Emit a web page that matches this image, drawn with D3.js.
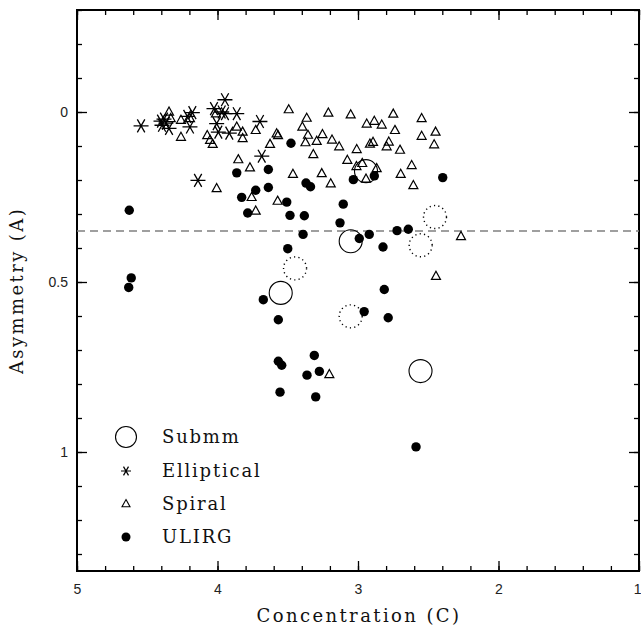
<!doctype html>
<html>
  <head>
    <meta charset="utf-8">
    <title>Concentration vs Asymmetry</title>
    <script src="https://cdn.jsdelivr.net/npm/d3@7"></script>
    <style>
      body { margin: 0; background: #fff; }
      .tick text { font-family: "Liberation Sans", Arial, sans-serif; font-size: 14px; fill: #222; }
      .lbl { font-family: "DejaVu Serif", serif; font-size: 18px; fill: #111; }
    </style>
  </head>
  <body>
    <script>
      // Elliptical galaxies (concentration, asymmetry)
      const ellipticalC = [4.544, 4.402, 4.381, 4.367, 4.345, 4.395, 4.215, 4.179, 4.196, 4.025,
                           3.947, 3.970, 3.947, 3.863, 4.006, 3.994, 3.916, 3.698, 3.685, 4.139];
      const ellipticalA = [0.041, 0.027, 0.021, 0.033, 0.048, 0.039, 0.013, 0.002, 0.044, -0.010,
                           -0.036, 0.000, 0.005, 0.005, 0.034, 0.059, 0.062, 0.028, 0.130, 0.201];

      // Spiral galaxies
      const spiralC = [4.345, 4.333, 4.260, 4.260, 4.196, 4.073, 4.053, 4.034, 4.011, 3.863,
                       3.821, 3.821, 3.728, 3.579, 3.569, 3.626, 3.493, 3.852, 3.769, 4.006,
                       3.757, 3.572, 3.728, 3.365, 3.396, 3.211, 3.052, 2.938, 2.884, 2.831,
                       2.749, 2.547, 2.737, 2.448, 2.547, 2.458, 3.356, 3.253, 3.185, 3.294,
                       3.374, 3.134, 3.009, 2.915, 2.893, 2.796, 2.781, 2.701, 3.318, 3.076,
                       3.011, 2.970, 2.867, 2.943, 2.618, 2.696, 2.606, 3.463, 3.258, 3.194,
                       2.267, 2.445, 3.204];
      const spiralA = [0.000, 0.019, 0.024, 0.074, 0.019, 0.069, 0.083, 0.095, 0.005, 0.044,
                       0.059, 0.078, 0.054, 0.064, 0.069, 0.095, -0.007, 0.140, 0.164, 0.225,
                       0.251, 0.262, 0.291, 0.018, 0.044, 0.003, 0.008, 0.035, 0.027, 0.038,
                       0.006, 0.019, 0.054, 0.059, 0.071, 0.096, 0.068, 0.066, 0.082, 0.086,
                       0.090, 0.102, 0.110, 0.094, 0.089, 0.102, 0.088, 0.112, 0.125, 0.142,
                       0.160, 0.151, 0.166, 0.197, 0.157, 0.183, 0.216, 0.183, 0.181, 0.211,
                       0.366, 0.483, 0.772];

      // ULIRGs
      const ulirgC = [4.628, 4.614, 4.632, 3.863, 3.638, 3.728, 3.638, 3.828, 3.785, 3.507,
                      3.484, 3.382, 3.477, 3.370, 3.338, 3.105, 3.128, 3.033, 2.884, 2.397,
                      3.391, 3.500, 2.991, 2.920, 2.722, 2.642, 2.822, 3.674, 3.567, 2.956,
                      2.813, 2.785, 3.311, 3.567, 3.543, 3.275, 3.363, 3.555, 3.301, 2.587];
      const ulirgA = [0.289, 0.488, 0.516, 0.179, 0.169, 0.230, 0.222, 0.251, 0.297, 0.265,
                      0.304, 0.305, 0.092, 0.209, 0.220, 0.271, 0.326, 0.199, 0.188, 0.193,
                      0.360, 0.402, 0.372, 0.360, 0.349, 0.345, 0.397, 0.552, 0.611, 0.587,
                      0.522, 0.605, 0.716, 0.733, 0.745, 0.763, 0.774, 0.824, 0.838, 0.985];

      // Submm sources: secure (solid) and tentative (dotted)
      const submmC = [2.943, 3.052, 3.550, 2.555];
      const submmA = [0.174, 0.380, 0.532, 0.762];
      const submmTentC = [2.452, 2.554, 3.448, 3.052];
      const submmTentA = [0.309, 0.392, 0.460, 0.601];

      const asymCut = 0.35;

      const xMajor = [5, 4, 3, 2, 1];
      const yMajor = [0, 0.5, 1];
      const legendNames = ['Submm', 'Elliptical', 'Spiral', 'ULIRG'];

      const width = 641, height = 628;
      const m = { left: 77, right: 639, top: 10, bottom: 571 };

      const svg = d3.select('body').append('svg')
          .attr('width', width)
          .attr('height', height);

      const x = d3.scaleLinear().domain([5, 1]).range([m.left, m.right]);
      const y = d3.scaleLinear().domain([-0.3, 1.35]).range([m.top, m.bottom]);

      const xMinor = d3.range(5, 0.99, -0.2).map(v => +v.toFixed(2));
      const yMinor = d3.range(-0.3, 1.351, 0.1).map(v => +v.toFixed(2));
      const fmt = d3.format('~g');

      // minor ticks on all sides
      const minorAxes = [
        [d3.axisBottom(x).tickValues(xMinor).tickSize(-5), `translate(0,${m.bottom})`],
        [d3.axisTop(x).tickValues(xMinor).tickSize(-5), `translate(0,${m.top})`],
        [d3.axisLeft(y).tickValues(yMinor).tickSize(-5), `translate(${m.left},0)`],
        [d3.axisRight(y).tickValues(yMinor).tickSize(-5), `translate(${m.right},0)`]
      ];
      minorAxes.forEach(([ax, tr]) => {
        svg.append('g').attr('transform', tr).call(ax.tickFormat(''));
      });

      // major ticks
      const xAxisG = svg.append('g').attr('transform', `translate(0,${m.bottom})`)
          .call(d3.axisBottom(x).tickValues(xMajor).tickSize(-10).tickPadding(13).tickFormat(fmt));
      // last label sits on the right edge
      xAxisG.selectAll('.tick text').filter(d => d === 1).attr('text-anchor', 'end').attr('dx', 2);
      svg.append('g').attr('transform', `translate(0,${m.top})`)
          .call(d3.axisTop(x).tickValues(xMajor).tickSize(-10).tickFormat(''));
      svg.append('g').attr('transform', `translate(${m.left},0)`)
          .call(d3.axisLeft(y).tickValues(yMajor).tickSize(-10).tickPadding(9).tickFormat(fmt));
      svg.append('g').attr('transform', `translate(${m.right},0)`)
          .call(d3.axisRight(y).tickValues(yMajor).tickSize(-10).tickFormat(''));

      svg.selectAll('.domain').remove();
      svg.selectAll('.tick line').attr('stroke', '#000').attr('stroke-width', 1.3);

      // frame
      svg.append('rect')
          .attr('x', m.left).attr('y', m.top)
          .attr('width', m.right - m.left).attr('height', m.bottom - m.top)
          .attr('fill', 'none').attr('stroke', '#000').attr('stroke-width', 2);

      // asymmetry cut
      svg.append('line')
          .attr('x1', m.left).attr('x2', m.right)
          .attr('y1', y(asymCut)).attr('y2', y(asymCut))
          .attr('stroke', '#808080').attr('stroke-width', 1.7)
          .attr('stroke-dasharray', '8,5');

      const plot = svg.append('g');

      const triPath = s => `M0,${-s * 0.55}L${s * 0.5},${s * 0.35}L${-s * 0.5},${s * 0.35}Z`;
      const starPath = s => {
        const a = s / 2, c = a * Math.cos(Math.PI / 3), d = a * Math.sin(Math.PI / 3);
        return `M${-a},0L${a},0M${-c},${-d}L${c},${d}M${-c},${d}L${c},${-d}`;
      };

      // spirals
      plot.selectAll('path.spiral')
        .data(d3.zip(spiralC, spiralA))
        .enter().append('path')
          .attr('class', 'spiral')
          .attr('transform', d => `translate(${x(d[0])},${y(d[1])})`)
          .attr('d', triPath(9))
          .attr('fill', 'none').attr('stroke', '#000').attr('stroke-width', 1.2);

      // ellipticals
      plot.selectAll('path.ell')
        .data(d3.zip(ellipticalC, ellipticalA))
        .enter().append('path')
          .attr('class', 'ell')
          .attr('transform', d => `translate(${x(d[0])},${y(d[1])})`)
          .attr('d', starPath(15))
          .attr('fill', 'none').attr('stroke', '#000').attr('stroke-width', 1.3);

      // ULIRGs
      plot.selectAll('circle.ulirg')
        .data(d3.zip(ulirgC, ulirgA))
        .enter().append('circle')
          .attr('class', 'ulirg')
          .attr('cx', d => x(d[0])).attr('cy', d => y(d[1]))
          .attr('r', 4.7).attr('fill', '#000');

      // submm
      plot.selectAll('circle.submm')
        .data(d3.zip(submmC, submmA))
        .enter().append('circle')
          .attr('class', 'submm')
          .attr('cx', d => x(d[0])).attr('cy', d => y(d[1]))
          .attr('r', 11.5).attr('fill', 'none')
          .attr('stroke', '#000').attr('stroke-width', 1.1);

      plot.selectAll('circle.submmt')
        .data(d3.zip(submmTentC, submmTentA))
        .enter().append('circle')
          .attr('class', 'submmt')
          .attr('cx', d => x(d[0])).attr('cy', d => y(d[1]))
          .attr('r', 11.5).attr('fill', 'none')
          .attr('stroke', '#000').attr('stroke-width', 1.4)
          .attr('stroke-dasharray', '1.2,3.2');

      // legend
      const legend = svg.append('g');
      const rowY = [437, 471, 504, 537];
      legendNames.forEach((name, i) => {
        const g = legend.append('g').attr('transform', `translate(126,${rowY[i]})`);
        if (i === 0) {
          g.append('circle').attr('r', 10.5).attr('fill', 'none').attr('stroke', '#000').attr('stroke-width', 1.1);
        } else if (i === 1) {
          g.append('path').attr('d', starPath(10)).attr('stroke', '#000').attr('stroke-width', 1.2);
        } else if (i === 2) {
          g.append('path').attr('d', triPath(8)).attr('fill', 'none').attr('stroke', '#000').attr('stroke-width', 1.1);
        } else {
          g.append('circle').attr('r', 4.5).attr('fill', '#000');
        }
        g.append('text').attr('class', 'lbl')
          .attr('x', 36).attr('y', 6)
          .attr('letter-spacing', 1.8)
          .text(name);
      });

      // axis titles
      svg.append('text').attr('class', 'lbl')
          .attr('x', (m.left + m.right) / 2 + 1).attr('y', 622)
          .attr('text-anchor', 'middle')
          .attr('letter-spacing', 2.4)
          .text('Concentration (C)');

      svg.append('text').attr('class', 'lbl')
          .attr('transform', `translate(23,${(m.top + m.bottom) / 2}) rotate(-90)`)
          .attr('text-anchor', 'middle')
          .attr('letter-spacing', 2.4)
          .text('Asymmetry (A)');
    </script>
  </body>
</html>
